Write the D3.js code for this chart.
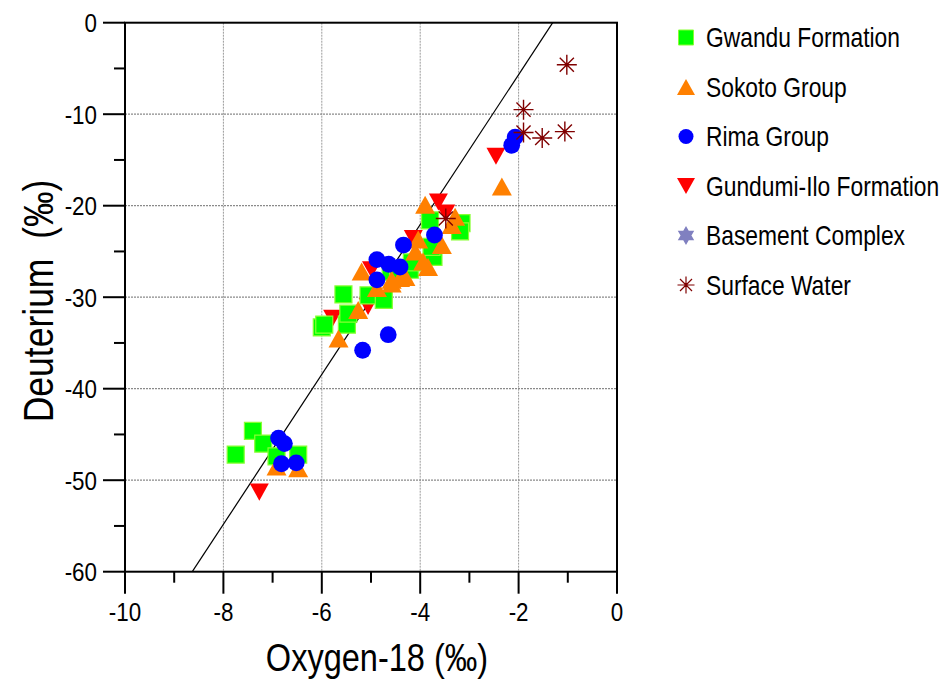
<!DOCTYPE html>
<html>
<head>
<meta charset="utf-8">
<script src="https://cdn.jsdelivr.net/npm/d3@7"></script>
<style>
  html, body { margin: 0; padding: 0; background: #fff; }
  svg { display: block; }
  text { font-family: "Liberation Sans", Arial, sans-serif; fill: #000; }
</style>
</head>
<body>
<svg id="chart" width="944" height="682"></svg>
<script>
// Stable isotope samples: [delta-18O, delta-D] in per mil
const gwandu = [
  [-7.75, -47.2], [-7.40, -44.6], [-7.19, -46.0], [-6.92, -47.4], [-6.48, -47.2],
  [-6.00, -33.3], [-5.95, -33.0], [-5.56, -29.7], [-5.49, -33.0], [-5.46, -31.8],
  [-5.05, -29.8], [-4.74, -30.3], [-4.60, -27.2], [-4.45, -27.6], [-4.21, -27.0],
  [-4.17, -26.2], [-3.73, -25.6], [-3.77, -24.5], [-3.80, -21.6], [-3.16, -21.9],
  [-3.19, -22.8]
];
const sokoto = [
  [-6.92, -48.5], [-6.48, -48.7], [-5.66, -34.5], [-5.26, -31.4], [-5.19, -27.2],
  [-4.88, -29.0], [-4.58, -28.1], [-4.58, -28.5], [-4.41, -27.9], [-4.30, -27.8],
  [-4.10, -25.0], [-3.94, -26.1], [-3.84, -26.7], [-4.04, -23.7], [-3.56, -24.3],
  [-3.36, -22.1], [-3.29, -21.2], [-3.90, -19.9], [-2.34, -17.9]
];
const rima = [
  [-6.88, -45.4], [-6.76, -46.0], [-6.82, -48.2], [-6.52, -48.1], [-5.17, -35.8],
  [-4.65, -34.1], [-4.88, -25.9], [-4.64, -26.4], [-4.41, -26.7], [-4.88, -28.1],
  [-4.34, -24.3], [-3.71, -23.2], [-2.14, -13.4], [-2.07, -12.5]
];
const gundumiIlo = [
  [-7.27, -51.3], [-5.78, -32.3], [-5.06, -31.0], [-4.99, -27.0], [-4.14, -23.6],
  [-3.63, -19.6], [-3.48, -20.8], [-2.46, -14.6]
];
const basement = [];
const surfaceWater = [
  [-1.02, -4.6], [-1.90, -9.5], [-1.90, -12.0], [-1.52, -12.6], [-1.06, -11.9],
  [-3.48, -21.4]
];

// Meteoric water line: dD = slope * d18O + intercept
const lineSlope = 8.19;
const lineIntercept = 10.7;

const xTicks = [-10, -8, -6, -4, -2, 0];
const yTicks = [0, -10, -20, -30, -40, -50, -60];
const xMinor = [-9, -7, -5, -3, -1];
const yMinor = [-5, -15, -25, -35, -45, -55];

const seriesNames = ["Gwandu Formation", "Sokoto Group", "Rima Group",
  "Gundumi-Ilo Formation", "Basement Complex", "Surface Water"];

const svg = d3.select("#chart");
const SX = 0.845; // narrow type

const x = d3.scaleLinear().domain([-10, 0]).range([125, 617]);
const y = d3.scaleLinear().domain([-60, 0]).range([571.7, 22.7]);

// custom marker shapes centred on their bounding box
const upTri = { draw(c, s) { const w = Math.sqrt(s), h = w * 0.9;
  c.moveTo(0, -h / 2); c.lineTo(w / 2, h / 2); c.lineTo(-w / 2, h / 2); c.closePath(); } };
const downTri = { draw(c, s) { const w = Math.sqrt(s), h = w * 0.9;
  c.moveTo(-w / 2, -h / 2); c.lineTo(w / 2, -h / 2); c.lineTo(0, h / 2); c.closePath(); } };
const hexagram = { draw(c, s) { const r = Math.sqrt(s) / 2;
  for (let k = 0; k < 2; k++) {
    for (let i = 0; i < 3; i++) {
      const a = -Math.PI / 2 + k * Math.PI + i * 2 * Math.PI / 3;
      const px = r * Math.cos(a), py = r * Math.sin(a);
      if (i === 0) c.moveTo(px, py); else c.lineTo(px, py);
    }
    c.closePath();
  } } };
const asterisk = { draw(c, s) { const r = Math.sqrt(s) / 2;
  for (let i = 0; i < 8; i++) {
    const a = i * Math.PI / 4;
    c.moveTo(0, 0); c.lineTo(r * Math.cos(a), r * Math.sin(a));
  } } };

// grid
const grid = svg.append("g");
grid.selectAll("line.gx").data(xTicks.slice(1, -1)).join("line")
  .attr("x1", d => x(d)).attr("x2", d => x(d)).attr("y1", y(0)).attr("y2", y(-60))
  .attr("stroke", "#9a9a9a").attr("stroke-width", 1).attr("stroke-dasharray", "2,1");
grid.selectAll("line.gy").data(yTicks.slice(1, -1)).join("line")
  .attr("x1", x(-10)).attr("x2", x(0)).attr("y1", d => y(d)).attr("y2", d => y(d))
  .attr("stroke", "#8a8a8a").attr("stroke-width", 1.3).attr("stroke-dasharray", "2,1");

// meteoric water line clipped to the frame
const lx0 = (-60 - lineIntercept) / lineSlope, lx1 = (0 - lineIntercept) / lineSlope;
svg.append("line")
  .attr("x1", x(lx0)).attr("y1", y(-60)).attr("x2", x(lx1)).attr("y2", y(0))
  .attr("stroke", "#000").attr("stroke-width", 1.2);

// markers (drawing order: red, green, orange, blue, surface water)
const pts = svg.append("g");
function drawSeries(data, type, size, fill, stroke, sw) {
  pts.append("g").selectAll("path").data(data).join("path")
    .attr("transform", d => `translate(${x(d[0])},${y(d[1])})`)
    .attr("d", d3.symbol().type(type).size(size)())
    .attr("fill", fill).attr("stroke", stroke).attr("stroke-width", sw);
}
drawSeries(gundumiIlo, downTri, 19 * 19, "#ff0000", "none", 0);
drawSeries(gwandu, d3.symbolSquare, 17 * 17, "#00ff00", "#88ff33", 1.2);
drawSeries(sokoto, upTri, 20 * 20, "#ff8000", "none", 0);
drawSeries(rima, d3.symbolCircle, Math.PI * 8.4 * 8.4, "#0000ff", "none", 0);
drawSeries(basement, hexagram, 17 * 17, "#8080c0", "none", 0);
drawSeries(surfaceWater, asterisk, 20 * 20, "none", "#800000", 1.4);

// axes and frame
const ax = svg.append("g").attr("stroke", "#000").attr("stroke-width", 2);
ax.append("rect").attr("x", x(-10)).attr("y", y(0))
  .attr("width", x(0) - x(-10)).attr("height", y(-60) - y(0)).attr("fill", "none");
ax.selectAll("line.xt").data(xTicks).join("line")
  .attr("x1", d => x(d)).attr("x2", d => x(d)).attr("y1", y(-60)).attr("y2", y(-60) + 22);
ax.selectAll("line.xm").data(xMinor).join("line")
  .attr("x1", d => x(d)).attr("x2", d => x(d)).attr("y1", y(-60)).attr("y2", y(-60) + 11);
ax.selectAll("line.yt").data(yTicks).join("line")
  .attr("x1", x(-10) - 22).attr("x2", x(-10)).attr("y1", d => y(d)).attr("y2", d => y(d));
ax.selectAll("line.ym").data(yMinor).join("line")
  .attr("x1", x(-10) - 11).attr("x2", x(-10)).attr("y1", d => y(d)).attr("y2", d => y(d));

// tick labels
svg.append("g").selectAll("text").data(xTicks).join("text")
  .attr("transform", d => `translate(${x(d)},621) scale(${SX},1)`)
  .attr("text-anchor", "middle").attr("font-size", 26.5).text(d => d);
svg.append("g").selectAll("text").data(yTicks).join("text")
  .attr("transform", d => `translate(97,${y(d) + 9.5}) scale(${SX},1)`)
  .attr("text-anchor", "end").attr("font-size", 26.5).text(d => d);

// axis titles
svg.append("text").attr("transform", `translate(377,671) scale(${SX},1)`)
  .attr("text-anchor", "middle").attr("font-size", 38.5).text("Oxygen-18 (‰)");
svg.append("text").attr("transform", `translate(53,301) rotate(-90) scale(${SX},1)`)
  .attr("text-anchor", "middle").attr("font-size", 42).attr("xml:space", "preserve")
  .text("Deuterium  (‰)");

// legend
const legendTypes = [
  [d3.symbolSquare, 15 * 15, "#00ff00", "#88ff33", 1],
  [upTri, 18 * 18, "#ff8000", "none", 0],
  [d3.symbolCircle, Math.PI * 7.5 * 7.5, "#0000ff", "none", 0],
  [downTri, 18 * 18, "#ff0000", "none", 0],
  [hexagram, 19 * 19, "#8080c0", "none", 0],
  [asterisk, 17 * 17, "none", "#800000", 1.2]
];
const lg = svg.append("g");
seriesNames.forEach((name, i) => {
  const cy = 37.5 + i * 49.5;
  const t = legendTypes[i];
  lg.append("path").attr("transform", `translate(686,${cy})`)
    .attr("d", d3.symbol().type(t[0]).size(t[1])())
    .attr("fill", t[2]).attr("stroke", t[3]).attr("stroke-width", t[4]);
  lg.append("text").attr("transform", `translate(706,${cy + 9.8}) scale(${SX},1)`)
    .attr("font-size", 27).text(name);
});
</script>
</body>
</html>
